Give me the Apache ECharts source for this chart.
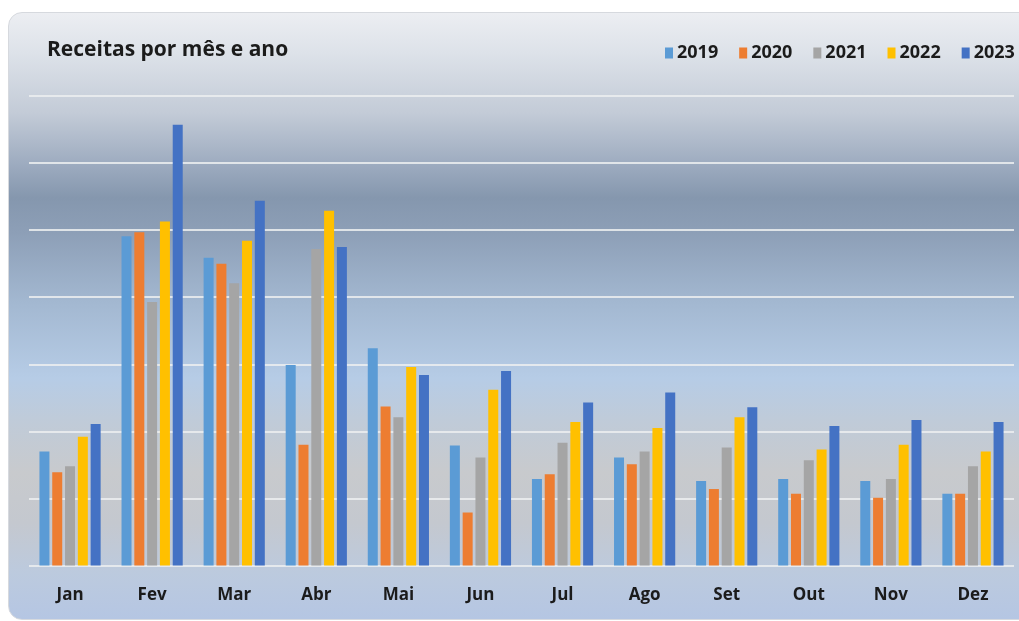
<!DOCTYPE html>
<html>
<head>
<meta charset="utf-8">
<script src="https://cdn.jsdelivr.net/npm/echarts@6/dist/echarts.min.js"></script>
<style>
html, body {
  margin: 0;
  padding: 0;
  width: 1019px;
  height: 621px;
  background: #ffffff;
  overflow: hidden;
}
/* cartão com fundo em degradê */
#card {
  position: absolute;
  left: 8px;
  top: 12px;
  width: 1040px;
  height: 606px;
  border: 1px solid #d6d9de;
  border-radius: 14px;
  background: linear-gradient(to bottom,
    #eceef2 0px,
    #dde2e9 40px,
    #c3cbd7 100px,
    #9eacc0 150px,
    #8597ae 185px,
    #8d9fb7 220px,
    #a3b8d1 290px,
    #b6cce6 365px,
    #c0cbd8 410px,
    #c8cacd 460px,
    #c4c8cf 510px,
    #bccade 560px,
    #b5c6e3 606px);
}
#chart {
  position: absolute;
  left: 0;
  top: 0;
  width: 1019px;
  height: 621px;
}
</style>
</head>
<body>
<div id="card"></div>
<div id="chart"></div>
<script>
// meses
var meses = ['Jan', 'Fev', 'Mar', 'Abr', 'Mai', 'Jun', 'Jul', 'Ago', 'Set', 'Out', 'Nov', 'Dez']
// receitas por ano
var receitas2019 = [17.0, 49.1, 45.9, 29.9, 32.4, 17.9, 12.9, 16.1, 12.6, 12.9, 12.6, 10.7]
var receitas2020 = [13.9, 49.7, 45.0, 18.0, 23.7, 7.9, 13.6, 15.1, 11.4, 10.7, 10.1, 10.7]
var receitas2021 = [14.8, 39.3, 42.1, 47.2, 22.1, 16.1, 18.3, 17.0, 17.6, 15.7, 12.9, 14.8]
var receitas2022 = [19.2, 51.3, 48.4, 52.9, 29.6, 26.2, 21.4, 20.5, 22.1, 17.3, 18.0, 17.0]
var receitas2023 = [21.1, 65.7, 54.4, 47.5, 28.4, 29.0, 24.3, 25.8, 23.6, 20.8, 21.7, 21.4]
var anos = ['2019', '2020', '2021', '2022', '2023']
var cores = ['#5b9bd5', '#ed7d31', '#a5a5a5', '#ffc000', '#4472c4']

var dados = [receitas2019, receitas2020, receitas2021, receitas2022, receitas2023]
var fonte = '"Open Sans", "Noto Sans", sans-serif'

var myChart = echarts.init(document.getElementById('chart'))
myChart.setOption({
  backgroundColor: 'transparent',
  animation: false,
  color: cores,
  title: {
    text: 'Receitas por mês e ano',
    left: 42,
    top: 35,
    textStyle: {fontSize: 21, fontWeight: 'bold', color: '#1b1b1b', fontFamily: fonte}
  },
  legend: {
    data: anos,
    left: 660,
    top: 39,
    width: 600,
    orient: 'horizontal',
    icon: 'rect',
    itemWidth: 8,
    itemHeight: 11,
    itemGap: 21,
    textStyle: {fontSize: 18, fontWeight: 'bold', color: '#1b1b1b', fontFamily: fonte, padding: [0, 0, 0, -1]}
  },
  grid: {left: 29, right: 5, top: 96, bottom: 55.5},
  xAxis: {
    type: 'category',
    data: meses,
    axisLine: {show: false},
    axisTick: {show: false},
    axisLabel: {
      margin: 21,
      fontSize: 17,
      fontWeight: 'bold',
      color: '#1b1b1b',
      fontFamily: fonte
    }
  },
  yAxis: {
    type: 'value',
    min: 0,
    max: 70,
    interval: 10,
    axisLabel: {show: false},
    axisLine: {show: false},
    axisTick: {show: false},
    splitLine: {lineStyle: {color: 'rgba(236, 238, 240, 0.85)', width: 2}}
  },
  series: anos.map(function (ano, i) {
    return {
      name: ano,
      type: 'bar',
      data: dados[i],
      barWidth: 10,
      barGap: '28%'
    }
  })
})
</script>
</body>
</html>
